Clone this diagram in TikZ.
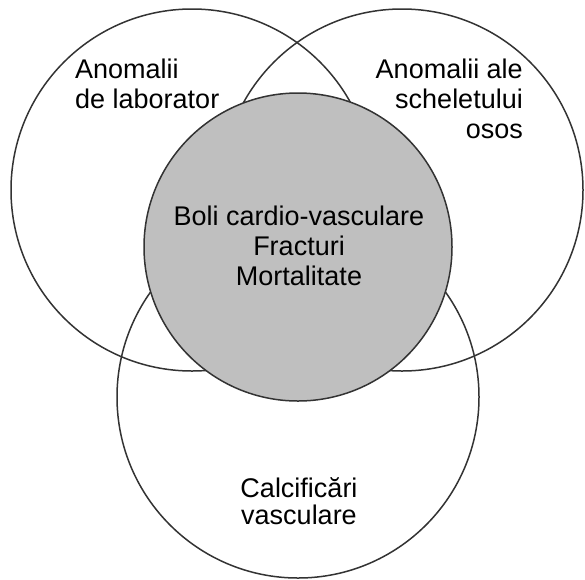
\documentclass[tikz,border=0pt]{standalone}
\usepackage{fontspec}
\setmainfont{Liberation Sans}
\usepackage{xcolor}

\begin{document}
\begin{tikzpicture}[
  x=1pt, y=-1pt,
  ring/.style={circle,draw=black!80,line width=1.5pt,inner sep=0pt},
  core/.style={ring,fill=black!25},
  lbl/.style={inner sep=0pt,font=\fontsize{27}{30}\selectfont}
]
  \useasboundingbox (0,0) rectangle (585,579);
  \node[ring,minimum size=362pt] (lab) at (192,190) {};
  \node[ring,minimum size=362pt] (bone) at (402,190) {};
  \node[ring,minimum size=362pt] (calc) at (298,397) {};
  \node[core,minimum size=308pt] (out) at (298,247) {};
  % base anchor of a multi-line node sits on its last line
  \node[lbl,anchor=base west,align=left] (tlab) at (75,108) {Anomalii\\de laborator};
  \node[lbl,anchor=base east,align=right] (tbone) at (523,138) {Anomalii ale\\scheletului\\osos};
  \node[lbl,anchor=base,align=center] (tout) at (299,285) {Boli cardio-vasculare\\Fracturi\\Mortalitate};
  \node[lbl,anchor=base,align=center,font=\fontsize{27}{27}\selectfont] (tcalc) at (299,524) {Calcificări\\vasculare};
\end{tikzpicture}
\end{document}
